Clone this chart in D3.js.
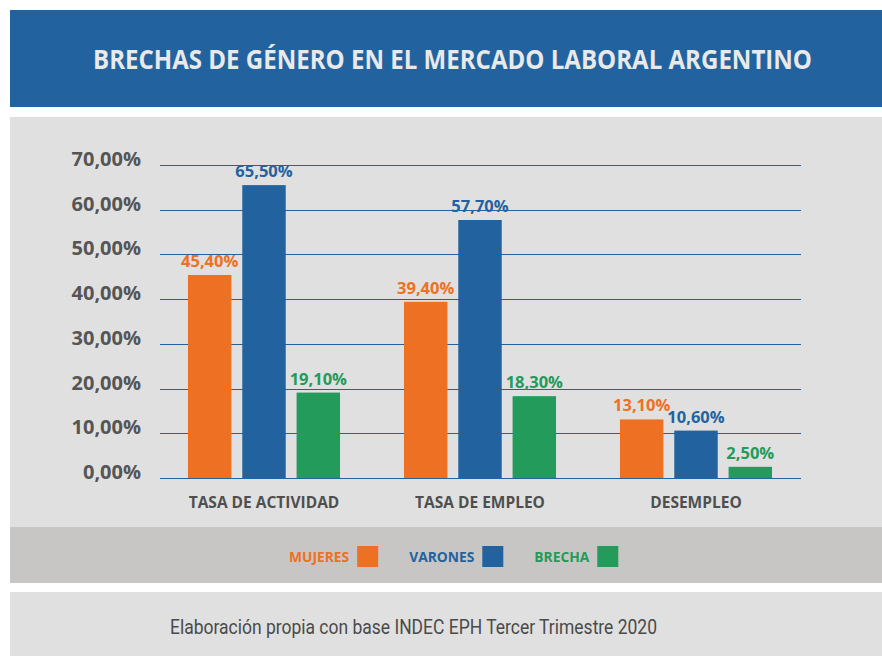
<!DOCTYPE html>
<html>
<head>
<meta charset="utf-8">
<script src="https://cdn.jsdelivr.net/npm/d3@7"></script>
<style>
  body { margin: 0; background: #fff; }
  svg { display: block; }
</style>
</head>
<body>
<script>
const WIDTH = 882;
const HEIGHT = 656;

// Datos del gráfico
const categorias = ["TASA DE ACTIVIDAD", "TASA DE EMPLEO", "DESEMPLEO"];
const series = ["MUJERES", "VARONES", "BRECHA"];
const mujeres = [45.4, 39.4, 13.1];
const varones = [65.5, 57.7, 10.6];
const brecha = [19.1, 18.3, 2.5];
const ticks = [0, 10, 20, 30, 40, 50, 60, 70];

const colores = { MUJERES: "#ee7023", VARONES: "#22639f", BRECHA: "#229b5b" };
const valores = { MUJERES: mujeres, VARONES: varones, BRECHA: brecha };

const titulo = "BRECHAS DE GÉNERO EN EL MERCADO LABORAL ARGENTINO";
const fuente = "Elaboración propia con base INDEC EPH Tercer Trimestre 2020";

const formato = (v) => v.toFixed(2).replace(".", ",") + "%";

const svg = d3
  .select("body")
  .append("svg")
  .attr("width", WIDTH)
  .attr("height", HEIGHT);

// Fondos
svg.append("rect").attr("x", 10).attr("y", 10).attr("width", 872).attr("height", 97).attr("fill", "#22639f");
svg.append("rect").attr("x", 10).attr("y", 117).attr("width", 872).attr("height", 410).attr("fill", "#e0e0e0");
svg.append("rect").attr("x", 10).attr("y", 527).attr("width", 872).attr("height", 56).attr("fill", "#c8c6c4");
svg.append("rect").attr("x", 10).attr("y", 592).attr("width", 872).attr("height", 64).attr("fill", "#e0e0e0");

svg.append("text")
  .attr("x", 93)
  .attr("y", 69)
  .attr("textLength", 719)
  .attr("lengthAdjust", "spacingAndGlyphs")
  .attr("fill", "#e9e9e9")
  .style("font-family", "'Open Sans'")
  .style("font-weight", 700)
  .style("font-size", "26px")
  .text(titulo);

// Escalas
const x0 = d3.scaleBand().domain(categorias).range([156, 804]).paddingInner(0.296).paddingOuter(0.148);
const x1 = d3.scaleBand().domain(series).range([0, x0.bandwidth()]).paddingInner(0.2);
const y = d3.scaleLinear().domain([0, 70]).range([478, 165]);

// Grilla
svg.append("g")
  .selectAll("line")
  .data(ticks)
  .join("line")
  .attr("x1", 160)
  .attr("x2", 801)
  .attr("y1", (d) => Math.round(y(d)) + 0.5)
  .attr("y2", (d) => Math.round(y(d)) + 0.5)
  .attr("stroke", "#22639f")
  .attr("stroke-width", 1.2);

svg.append("g")
  .selectAll("text")
  .data(ticks)
  .join("text")
  .attr("x", 141)
  .attr("y", (d) => y(d) + 1)
  .attr("text-anchor", "end")
  .attr("fill", "#555")
  .style("font-family", "'Open Sans'")
  .style("font-weight", 700)
  .style("font-size", "20px")
  .text(formato);

// Barras
const grupos = svg.append("g")
  .selectAll("g")
  .data(categorias)
  .join("g")
  .attr("transform", (c) => `translate(${x0(c)},0)`);

const filas = (c, i) => series.map((s) => ({ serie: s, valor: valores[s][i] }));

grupos.selectAll("rect")
  .data(filas)
  .join("rect")
  .attr("x", (d) => x1(d.serie))
  .attr("y", (d) => y(d.valor))
  .attr("width", x1.bandwidth())
  .attr("height", (d) => y(0) - y(d.valor))
  .attr("fill", (d) => colores[d.serie]);

grupos.selectAll("text")
  .data(filas)
  .join("text")
  .attr("x", (d) => x1(d.serie) + x1.bandwidth() / 2)
  .attr("y", (d) => y(d.valor) - 8)
  .attr("text-anchor", "middle")
  .attr("fill", (d) => colores[d.serie])
  .style("font-family", "'Open Sans'")
  .style("font-weight", 700)
  .style("font-size", "16.5px")
  .text((d) => formato(d.valor));

// Categorías
svg.append("g")
  .selectAll("text")
  .data(categorias)
  .join("text")
  .attr("x", (c) => x0(c) + x0.bandwidth() / 2)
  .attr("y", 508)
  .attr("text-anchor", "middle")
  .attr("fill", "#4f4f4f")
  .style("font-family", "'Open Sans'")
  .style("font-weight", 700)
  .style("font-size", "15.5px")
  .text((c) => c);

// Leyenda
const leyenda = svg.append("g");
let cursor = 289;
series.forEach((s) => {
  const t = leyenda.append("text")
    .attr("x", cursor)
    .attr("y", 562)
    .attr("fill", colores[s])
    .style("font-family", "'Open Sans'")
    .style("font-weight", 700)
    .style("font-size", "13.8px")
    .text(s);
  const ancho = t.node().getComputedTextLength();
  leyenda.append("rect")
    .attr("x", cursor + ancho + 8)
    .attr("y", 546)
    .attr("width", 21)
    .attr("height", 21)
    .attr("fill", colores[s]);
  cursor += ancho + 8 + 21 + 31;
});

// Fuente
svg.append("text")
  .attr("x", 170)
  .attr("y", 634)
  .attr("textLength", 487)
  .attr("lengthAdjust", "spacingAndGlyphs")
  .attr("fill", "#4a4a4a")
  .style("font-family", "Roboto")
  .style("font-size", "20px")
  .text(fuente);
</script>
</body>
</html>
